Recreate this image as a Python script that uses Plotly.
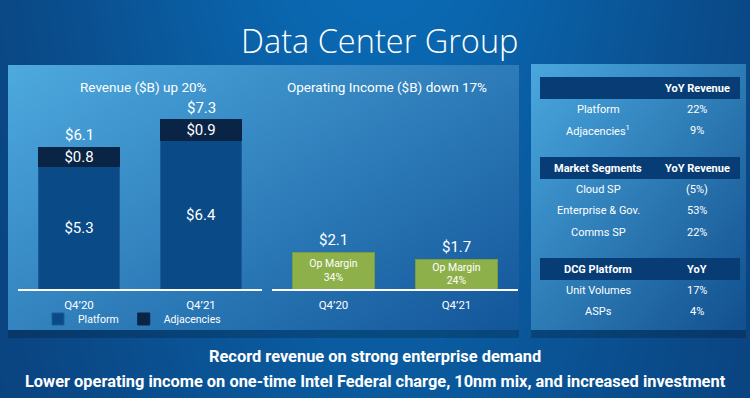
import base64, struct, zlib
import numpy as np
import plotly.graph_objects as go

# ---------------- data ----------------
quarters = ["Q4’20", "Q4’21"]
platform_rev = [5.3, 6.4]
adjacencies_rev = [0.8, 0.9]
op_income = [2.1, 1.7]
op_margin = ["34%", "24%"]

t1_header = ["", "YoY Revenue"]
t1_rows = ["Platform", "Adjacencies<sup>1</sup>"]
t1_vals = ["22%", "9%"]
t2_header = ["Market Segments", "YoY Revenue"]
t2_rows = ["Cloud SP", "Enterprise & Gov.", "Comms SP"]
t2_vals = ["(5%)", "53%", "22%"]
t3_header = ["DCG Platform", "YoY"]
t3_rows = ["Unit Volumes", "ASPs"]
t3_vals = ["17%", "4%"]

title_text = "Data Center Group"
rev_title = "Revenue ($B) up 20%"
oi_title = "Operating Income ($B) down 17%"
footer = ["Record revenue on strong enterprise demand",
          "Lower operating income on one-time Intel Federal charge, 10nm mix, and increased investment"]

# ---------------- background image ----------------
W, H = 750, 398
yy, xx = np.mgrid[0:H, 0:W].astype(float)


def hexrgb(h):
    h = h.lstrip("#")
    return np.array([int(h[i:i + 2], 16) for i in (0, 2, 4)], float)


def lerp(c1, c2, t):
    t = np.clip(t, 0, 1)[..., None]
    return hexrgb(c1) * (1 - t) + hexrgb(c2) * t


f = np.exp(-((xx - 380) / 330) ** 2) * (1 - 0.35 * yy / H)
img = lerp("#0a3c76", "#0a6ab3", f)
sh = (yy >= 330) & (yy < 338) & (((xx >= 8) & (xx < 519)) | ((xx >= 531) & (xx < 746)))
img[sh] *= 0.8
m = (xx >= 8) & (xx < 519) & (yy >= 65) & (yy < 330)
t = 0.55 * (xx - 8) / 510 + 0.45 * (yy - 65) / 265
img[m] = lerp("#4eaadf", "#13569a", t)[m]
m = (xx >= 531) & (xx < 746) & (yy >= 64) & (yy < 330)
t = 0.5 * (xx - 531) / 214 + 0.5 * (yy - 64) / 266
img[m] = lerp("#4aa8de", "#12508f", t)[m]
img = np.clip(img, 0, 255).astype(np.uint8)


def png_uri(a):
    h, w, _ = a.shape
    raw = b"".join(b"\x00" + a[r].tobytes() for r in range(h))

    def chunk(tag, d):
        return struct.pack(">I", len(d)) + tag + d + struct.pack(">I", zlib.crc32(tag + d) & 0xFFFFFFFF)

    png = (b"\x89PNG\r\n\x1a\n" + chunk(b"IHDR", struct.pack(">IIBBBBB", w, h, 8, 2, 0, 0, 0))
           + chunk(b"IDAT", zlib.compress(raw, 9)) + chunk(b"IEND", b""))
    return "data:image/png;base64," + base64.b64encode(png).decode()


# ---------------- figure ----------------
FONT = "Roboto"
PLAT = "#0a4a86"
ADJ = "#0a2446"
GREEN = "#8db04a"
HDR = "#083c74"


def px_x(p):
    return p / W


def px_y(p):
    return 1 - p / H


def text_at(x, y, text, size, weight=None, family=FONT):
    font = dict(color="white", size=size, family=family)
    if weight:
        font["weight"] = weight
    fig.add_annotation(x=px_x(x), y=px_y(y), xref="paper", yref="paper", text=text, showarrow=False,
                       xanchor="center", yanchor="middle", font=font)


fig = go.Figure()

fig.add_trace(go.Bar(x=quarters, y=platform_rev, name="Platform",
                     marker=dict(color=PLAT, line=dict(color="#1a5c9a", width=1)),
                     text=[f"${v:.1f}" for v in platform_rev], textposition="inside", insidetextanchor="middle",
                     constraintext="none", textangle=0,
                     textfont=dict(color="white", size=15, family=FONT), xaxis="x", yaxis="y"))
fig.add_trace(go.Bar(x=quarters, y=adjacencies_rev, name="Adjacencies",
                     marker=dict(color=ADJ, line=dict(color=ADJ, width=1)),
                     text=[f"${v:.1f}" for v in adjacencies_rev], textposition="inside", insidetextanchor="middle",
                     constraintext="none", textangle=0,
                     textfont=dict(color="white", size=15, family=FONT), xaxis="x", yaxis="y"))
fig.add_trace(go.Bar(x=quarters, y=op_income, name="Operating Income", showlegend=False,
                     marker=dict(color=GREEN, line=dict(color="#7a9c3e", width=1)),
                     text=[f"Op Margin<br>{m}" for m in op_margin], textposition="inside", insidetextanchor="middle",
                     constraintext="none", textangle=0,
                     textfont=dict(color="white", size=10.5, family=FONT), xaxis="x2", yaxis="y2"))

# totals
for q, p, a in zip(quarters, platform_rev, adjacencies_rev):
    fig.add_annotation(x=q, y=p + a, xref="x", yref="y", text=f"${p + a:.1f}", showarrow=False,
                       xanchor="center", yanchor="bottom", yshift=1, font=dict(color="white", size=15, family=FONT))
for q, v in zip(quarters, op_income):
    fig.add_annotation(x=q, y=v, xref="x2", yref="y2", text=f"${v:.1f}", showarrow=False,
                       xanchor="center", yanchor="bottom", yshift=1, font=dict(color="white", size=15, family=FONT))

# side tables (header bands + text)
shapes = []
COLX = (598, 697)


def table(header, rows, vals, band_top, row_ys):
    shapes.append(dict(type="rect", xref="paper", yref="paper", x0=px_x(540), x1=px_x(740),
                       y0=px_y(band_top + 22), y1=px_y(band_top), fillcolor=HDR, line=dict(width=0),
                       layer="below"))
    for cx, h in zip(COLX, header):
        if h:
            text_at(cx, band_top + 11, f"<b>{h}</b>", 11)
    for ry, r, v in zip(row_ys, rows, vals):
        text_at(COLX[0], ry, r, 11)
        text_at(COLX[1], ry, v, 11)


table(t1_header, t1_rows, t1_vals, 77, [109, 131])
table(t2_header, t2_rows, t2_vals, 157, [189, 210.5, 232])
table(t3_header, t3_rows, t3_vals, 258, [290, 311])

# titles
text_at(379, 40, title_text, 32.5, weight=300, family="Open Sans")
text_at(143, 87, rev_title, 13.5)
text_at(387, 87, oi_title, 13.5)
for i, line in enumerate(footer):
    text_at(375, 356 + 25 * i, f"<b>{line}</b>", 16.4)

base = 289
top = 60
axis_common = dict(showline=True, linecolor="white", linewidth=1.5, ticks="", showgrid=False, zeroline=False,
                   tickfont=dict(color="white", size=11.5, family=FONT), fixedrange=True, range=[-0.5, 1.5],
                   ticklabelstandoff=4)
yaxis_common = dict(visible=False, showgrid=False, zeroline=False, fixedrange=True,
                    domain=[px_y(base), px_y(top)])

fig.update_layout(
    width=W, height=H, margin=dict(l=0, r=0, t=0, b=0),
    paper_bgcolor="#0a4a88", plot_bgcolor="rgba(0,0,0,0)",
    barmode="stack", bargap=0.34,
    xaxis=dict(domain=[px_x(18), px_x(262)], anchor="y", **axis_common),
    yaxis=dict(range=[0, (base - top) / 23.2], anchor="x", **yaxis_common),
    xaxis2=dict(domain=[px_x(272), px_x(518)], anchor="y2", **axis_common),
    yaxis2=dict(range=[0, (base - top) / 17.6], anchor="x2", **yaxis_common),
    showlegend=True,
    legend=dict(orientation="h", x=px_x(132), xanchor="center", y=px_y(319), yanchor="middle",
                font=dict(color="white", size=10.5, family=FONT), bgcolor="rgba(0,0,0,0)",
                traceorder="normal", itemwidth=30, tracegroupgap=0),
    shapes=shapes,
    images=[dict(source=png_uri(img), xref="paper", yref="paper", x=0, y=1, sizex=1, sizey=1,
                 sizing="stretch", layer="below", xanchor="left", yanchor="top")],
)

fig.write_html("out.html", config={"displayModeBar": False},
               post_script="document.body.style.margin='0px';")
